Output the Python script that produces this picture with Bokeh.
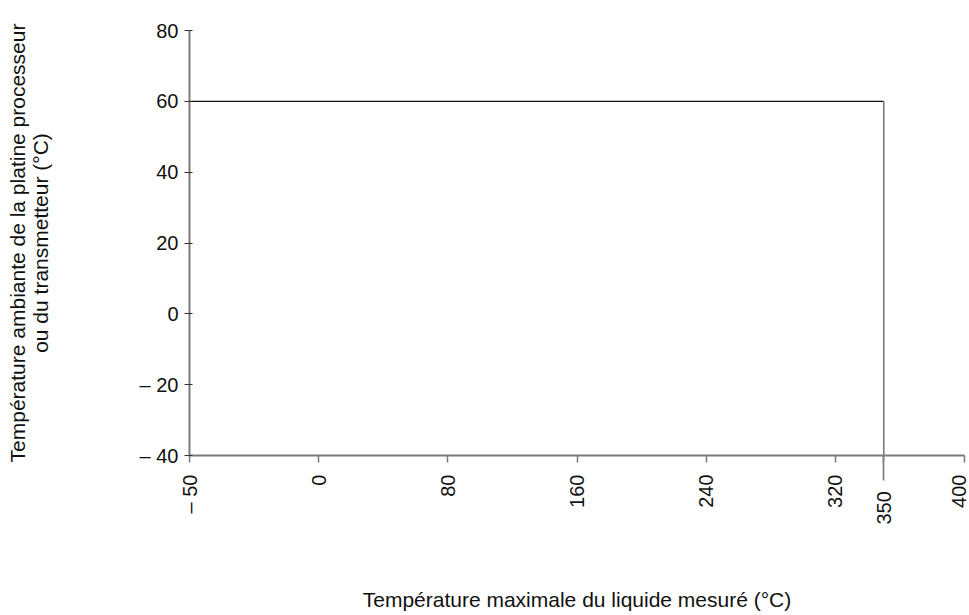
import math
from bokeh.plotting import figure
from bokeh.models import FixedTicker
from bokeh.embed import file_html
from bokeh.resources import INLINE

# ---- data ----
liquid_temp = [-50, 350, 350]        # Température maximale du liquide mesuré (°C)
ambient_temp = [60, 60, -40]         # Température ambiante (°C)
x_ticks = [-50, 0, 80, 160, 240, 320, 350, 400]
y_ticks = [-40, -20, 0, 20, 40, 60, 80]
x_label = "Température maximale du liquide mesuré (°C)"
y_label = "Température ambiante de la platine processeur\nou du transmetteur (°C)"

FONT = "Liberation Sans"


def to_axis(v):
    # broken axis: the -50..0 segment is drawn with the same width as 80 units
    return v * 80 / 50 if v < 0 else v


def fmt(v):
    return f"– {abs(v)}" if v < 0 else str(v)


xs = [to_axis(v) for v in liquid_temp]

p = figure(width=969, height=614, x_range=(to_axis(-50), 400), y_range=(-40, 80),
           output_backend="svg", toolbar_location=None,
           min_border_left=189, min_border_right=5, min_border_top=30, min_border_bottom=159)
p.background_fill_color = "white"
p.border_fill_color = "white"
p.outline_line_color = None
p.grid.visible = False

# horizontal limit (black) and vertical limit (gray)
p.line(xs[:2], ambient_temp[:2], line_color="#111111", line_width=1.3)
p.line(xs[1:], ambient_temp[1:], line_color="#7a7a7a", line_width=1.6)

# x axis
xa = p.xaxis[0]
xa.ticker = FixedTicker(ticks=[to_axis(v) for v in x_ticks], minor_ticks=[350])
overrides = {to_axis(v): fmt(v) for v in x_ticks}
overrides[350] = "350" + "\u00a0" * 3   # 350 label sits lower, below its longer tick
xa.major_label_overrides = overrides
xa.major_label_orientation = math.pi / 2
xa.axis_line_color = "#7a7a7a"
xa.axis_line_width = 2
xa.major_tick_in = 0
xa.major_tick_out = 7
xa.major_tick_line_color = "#7a7a7a"
xa.major_tick_line_width = 1.5
xa.minor_tick_in = 0
xa.minor_tick_out = 25
xa.minor_tick_line_color = "#7a7a7a"
xa.minor_tick_line_width = 1.6
xa.major_label_standoff = -6
xa.major_label_text_font = FONT
xa.major_label_text_font_size = "20px"
xa.major_label_text_color = "#111111"
xa.axis_label = x_label
xa.axis_label_text_font = FONT
xa.axis_label_text_font_size = "21px"
xa.axis_label_text_font_style = "normal"
xa.axis_label_text_color = "#111111"
xa.axis_label_standoff = 60

# y axis
ya = p.yaxis[0]
ya.ticker = FixedTicker(ticks=y_ticks)
ya.major_label_overrides = {v: fmt(v) for v in y_ticks}
ya.axis_line_color = "#7a7a7a"
ya.axis_line_width = 2
ya.major_tick_in = 3
ya.major_tick_out = 5
ya.major_tick_line_color = "#333333"
ya.major_tick_line_width = 1
ya.minor_tick_line_color = None
ya.major_label_standoff = 6
ya.major_label_text_font = FONT
ya.major_label_text_font_size = "20px"
ya.major_label_text_color = "#111111"
ya.axis_label = y_label
ya.axis_label_text_font = FONT
ya.axis_label_text_font_size = "21px"
ya.axis_label_text_font_style = "normal"
ya.axis_label_text_line_height = 1.0
ya.axis_label_text_color = "#111111"
ya.axis_label_standoff = 85

open("out.html", "w").write(file_html(p, INLINE))
